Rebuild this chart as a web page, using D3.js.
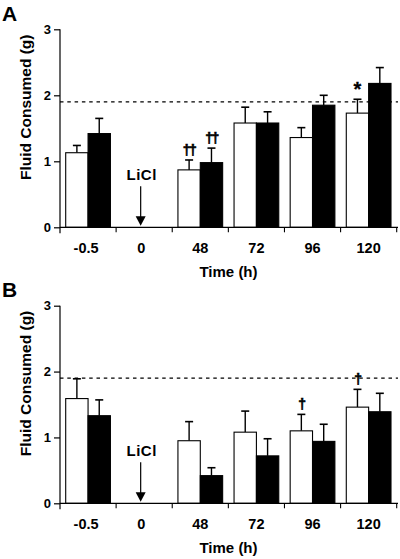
<!DOCTYPE html>
<html><head><meta charset="utf-8">
<script src="https://cdn.jsdelivr.net/npm/d3@7"></script>
<style>
html,body{margin:0;padding:0;background:#fff;}
svg{display:block;}
text{font-family:"Liberation Sans",Arial,Helvetica,sans-serif;font-weight:bold;fill:#000;}
</style></head>
<body>
<svg id="chart" width="400" height="559"></svg>
<script>
// ---- data ----
const categories = ["-0.5", "0", "48", "72", "96", "120"];
const yTicks = [0, 1, 2, 3];
const baseline = 1.9;
// Panel A
const aWhite = [1.13, null, 0.87, 1.58, 1.36, 1.73];
const aWhiteErr = [1.24, null, 1.02, 1.82, 1.51, 1.94];
const aBlack = [1.42, null, 0.98, 1.58, 1.85, 2.18];
const aBlackErr = [1.65, null, 1.20, 1.75, 2.00, 2.42];
const aWhiteMarks = ["", "", "††", "", "", "*"];
const aBlackMarks = ["", "", "††", "", "", ""];
// Panel B
const bWhite = [1.59, null, 0.95, 1.08, 1.10, 1.46];
const bWhiteErr = [1.89, null, 1.24, 1.40, 1.35, 1.73];
const bBlack = [1.33, null, 0.42, 0.72, 0.94, 1.39];
const bBlackErr = [1.57, null, 0.54, 0.98, 1.20, 1.67];
const bWhiteMarks = ["", "", "", "", "†", "†"];
const bBlackMarks = ["", "", "", "", "", ""];
const injectionCategory = "0";
const injectionLabel = "LiCl";

const svg = d3.select("#chart");

function panel(cfg) {
  const g = svg.append("g");
  const x = d3.scaleBand().domain(categories).range([60, 396.7]).paddingInner(0).paddingOuter(0);
  const y = d3.scaleLinear().domain([0, 3]).range([cfg.y0, cfg.y3]);
  const sub = d3.scaleBand().domain(["w", "k"]).range([0, x.bandwidth()]).paddingInner(0).paddingOuter(0.255);

  // panel letter
  g.append("text").attr("x", 2).attr("y", cfg.letterY).attr("font-size", 21).text(cfg.letter);

  // dashed reference line
  g.append("line").attr("x1", 60).attr("x2", 398).attr("y1", y(baseline)).attr("y2", y(baseline))
    .attr("stroke", "#000").attr("stroke-width", 1.2).attr("stroke-dasharray", "3.5,3.8");

  // bars
  const rows = categories.map((c, i) => ({c, i}));
  const series = [
    {key: "w", vals: cfg.white, errs: cfg.whiteErr, marks: cfg.whiteMarks, fill: "#fff"},
    {key: "k", vals: cfg.black, errs: cfg.blackErr, marks: cfg.blackMarks, fill: "#000"}
  ];
  series.forEach(s => {
    const data = rows.filter(r => s.vals[r.i] != null);
    data.forEach(r => {
      const cx = x(r.c) + sub(s.key) + sub.bandwidth() / 2;
      g.append("line").attr("x1", cx).attr("x2", cx).attr("y1", y(s.vals[r.i])).attr("y2", y(s.errs[r.i]))
        .attr("stroke", "#000").attr("stroke-width", 1.4);
      g.append("line").attr("x1", cx - 4).attr("x2", cx + 4).attr("y1", y(s.errs[r.i])).attr("y2", y(s.errs[r.i]))
        .attr("stroke", "#000").attr("stroke-width", 1.6);
      const m = s.marks[r.i];
      if (m) {
        const star = m === "*";
        g.append("text").attr("x", cx).attr("y", y(s.errs[r.i]) - (star ? 3 : 5)).attr("text-anchor", "middle")
          .attr("font-family", star ? "Liberation Sans, Arial, sans-serif" : "DejaVu Sans, sans-serif")
          .attr("font-size", star ? 20 : 14)
          .attr("letter-spacing", star ? 0 : -1.5)
          .style("fill", "#000")
          .style("stroke", "#000")
          .style("stroke-width", star ? 0.3 : 0.6)
          .text(m);
      }
    });
    g.selectAll(null).data(data).enter().append("rect")
      .attr("x", r => x(r.c) + sub(s.key))
      .attr("width", sub.bandwidth())
      .attr("y", r => y(s.vals[r.i]))
      .attr("height", r => y(0) - y(s.vals[r.i]))
      .attr("fill", s.fill).attr("stroke", "#000").attr("stroke-width", 1.1);
  });

  // LiCl arrow
  const ax = x(injectionCategory) + x.bandwidth() / 2 - 3.5;
  g.append("text").attr("x", ax + 1).attr("y", cfg.y0 - 47).attr("text-anchor", "middle")
    .attr("font-size", 15).attr("letter-spacing", 0.5).text(injectionLabel);
  g.append("line").attr("x1", ax).attr("x2", ax).attr("y1", cfg.y0 - 41).attr("y2", cfg.y0 - 8)
    .attr("stroke", "#000").attr("stroke-width", 1.2);
  g.append("path").attr("d", `M${ax - 5},${cfg.y0 - 11}L${ax + 5},${cfg.y0 - 11}L${ax},${cfg.y0 - 1.5}Z`).attr("fill", "#000");

  // y axis
  const yAxis = d3.axisLeft(y).tickValues(yTicks).tickFormat(d3.format("d")).tickSize(6).tickPadding(3);
  const ya = g.append("g").attr("transform", "translate(60,0)").call(yAxis);
  ya.select(".domain").attr("d", `M0,${cfg.y3}V${cfg.y0 + 6}`).attr("stroke-width", 1.2);
  ya.selectAll(".tick line").attr("stroke-width", 1.2);
  ya.selectAll("text").attr("font-size", 13).attr("font-family", "Liberation Sans, Arial, sans-serif").attr("font-weight", "bold");

  // x axis
  const xa = g.append("g").attr("transform", `translate(0,${cfg.y0})`);
  xa.append("line").attr("x1", 60).attr("x2", 398).attr("y1", 0).attr("y2", 0).attr("stroke", "#000").attr("stroke-width", 1.2);
  const bounds = categories.map(c => x(c)).concat([x.range()[1]]);
  xa.selectAll(".xt").data(bounds.slice(1)).enter().append("line")
    .attr("x1", d => d).attr("x2", d => d).attr("y1", 0).attr("y2", 5).attr("stroke", "#000").attr("stroke-width", 1.1);
  xa.selectAll(".xl").data(categories).enter().append("text")
    .attr("x", d => x(d) + x.bandwidth() / 2 - (d === "0" ? 3 : (d === "-0.5" ? 2 : 0)))
    .attr("y", 26).attr("text-anchor", "middle").attr("font-size", 14.5).text(d => d);
  g.append("text").attr("x", 228.5).attr("y", cfg.y0 + 50).attr("text-anchor", "middle").attr("font-size", 15).text("Time (h)");

  // y title
  g.append("text").attr("transform", `translate(31,${(cfg.y0 + cfg.y3) / 2 - 21}) rotate(-90)`)
    .attr("text-anchor", "middle").attr("font-size", 15.5).text("Fluid Consumed (g)");
}

panel({letter: "A", letterY: 21, y0: 227.3, y3: 29.3,
  white: aWhite, whiteErr: aWhiteErr, black: aBlack, blackErr: aBlackErr, whiteMarks: aWhiteMarks, blackMarks: aBlackMarks});
panel({letter: "B", letterY: 297, y0: 503.3, y3: 305.7,
  white: bWhite, whiteErr: bWhiteErr, black: bBlack, blackErr: bBlackErr, whiteMarks: bWhiteMarks, blackMarks: bBlackMarks});
</script>
</body></html>
